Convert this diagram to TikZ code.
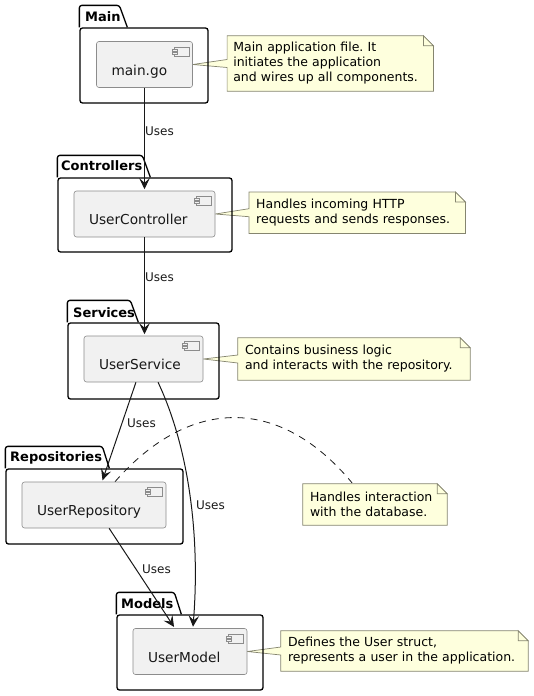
\documentclass[tikz,border=0pt]{standalone}
\usepackage{fontspec}
\setmainfont{DejaVu Sans}
\frenchspacing
\usetikzlibrary{arrows.meta,backgrounds,calc}
\definecolor{notefill}{HTML}{FEFFDD}
\definecolor{noteline}{HTML}{85856F}
\definecolor{compfill}{HTML}{F1F1F1}
\definecolor{compline}{HTML}{8C8C8C}
\definecolor{inkline}{HTML}{181818}
\tikzset{
  pack/.style={rectangle, draw=black, line width=1.3pt, rounded corners=2.5pt, inner sep=0pt},
  packline/.style={draw=black, line width=1.3pt, rounded corners=2.5pt},
  packlabel/.style={anchor=west, inner sep=0pt, font=\fontsize{13}{15}\selectfont\bfseries},
  comp/.style={rectangle, draw=compline, fill=compfill, line width=.6pt, rounded corners=2.5pt,
    align=left, inner xsep=15pt, inner ysep=0pt, minimum height=46pt, text height=21pt, text depth=0pt,
    font=\fontsize{13.7}{15}\selectfont, text=inkline},
  notetext/.style={align=left, inner xsep=7pt, inner ysep=0pt, text=black,
    font=\fontsize{12.5}{15}\selectfont},
  noteshape/.style={draw=noteline, fill=notefill, line width=.7pt},
  uses/.style={inner sep=0pt, text=inkline, font=\fontsize{12}{15}\selectfont},
  link/.style={draw=inkline, line width=1pt, shorten >=1.5pt, -{Stealth[length=11pt,width=10.5pt,inset=4.5pt]}}
}
\newcommand{\packtab}[3]{\draw[packline] (#1.north west) -- ++(0,-22) -- ++(#2,0) -- ($(#1.north west)+(#3,0)$);}
\newcommand{\compicon}[1]{
  \draw[compline, line width=.6pt, fill=compfill] ($(#1.north east)+(-19,6)$) rectangle ++(15,9);
  \draw[compline, line width=.6pt, fill=compfill] ($(#1.north east)+(-21,8)$) rectangle ++(5,2);
  \draw[compline, line width=.6pt, fill=compfill] ($(#1.north east)+(-21,11)$) rectangle ++(5,2);
}
\newcommand{\notefold}[1]{
  \draw[noteline, line width=.7pt, fill=notefill] ($(#1.north east)+(-10,0)$) -- ++(0,10) -- ++(10,0) -- cycle;
}
\newcommand{\noteback}[2]{
  \begin{scope}[on background layer]
  \draw[noteshape] (#1.north west) -- ($(#1.north east)+(-10,0)$) -- ($(#1.north east)+(0,10)$)
    -- (#1.south east) -- (#1.south west) -- ($(#1.west)+(0,4)$) -- (#2.east) -- ($(#1.west)+(0,-4)$) -- cycle;
  \end{scope}
  \notefold{#1}
}
\begin{document}
\begin{tikzpicture}[x=1pt,y=-1pt]
\useasboundingbox (0,0) rectangle (534,696);
% packages
\node[pack, minimum width=128pt, minimum height=75pt] (mainpack) at (144,65.5){};
\packtab{mainpack}{40}{48}
\node[packlabel] (mainlabel) at (85,17){Main};
\node[pack, minimum width=174pt, minimum height=74pt] (ctrlpack) at (145,215){};
\packtab{ctrlpack}{85}{93}
\node[packlabel] (ctrllabel) at (61,166){Controllers};
\node[pack, minimum width=151pt, minimum height=76pt] (servpack) at (143.5,361){};
\packtab{servpack}{63}{71}
\node[packlabel] (servlabel) at (73,312.5){Services};
\node[pack, minimum width=177pt, minimum height=75pt] (repopack) at (94.5,506.5){};
\packtab{repopack}{97}{104}
\node[packlabel] (repolabel) at (10,458){Repositories};
\node[pack, minimum width=146pt, minimum height=75pt] (modelpack) at (190,652.5){};
\packtab{modelpack}{58}{65}
\node[packlabel] (modellabel) at (121,604){Models};
% components
\node[comp, text width=66pt] (maingo) at (144.5,64.5){main.go};
\node[comp, text width=111pt] (controller) at (144.5,214){UserController};
\node[comp, text width=89pt] (service) at (143.5,359){UserService};
\node[comp, text width=114pt] (repository) at (94,505){UserRepository};
\node[comp, text width=84pt] (model) at (190,651.5){UserModel};
\foreach \c in {maingo,controller,service,repository,model}{\compicon{\c}}
% notes
\node[notetext, inner xsep=6pt, text width=194pt, minimum height=55pt] (mainnote) at (330.3,63.5){Main application file. It\\initiates the application\\and wires up all components.};
\noteback{mainnote}{maingo}
\node[notetext, text width=202pt, minimum height=41pt] (ctrlnote) at (357.2,212.7){Handles incoming HTTP\\requests and sends responses.};
\noteback{ctrlnote}{controller}
\node[notetext, text width=218pt, minimum height=42pt] (servnote) at (354,359){Contains business logic\\and interacts with the repository.};
\noteback{servnote}{service}
\node[notetext, text width=130pt, minimum height=41pt] (reponote) at (375,504.5){Handles interaction\\with the database.};
\begin{scope}[on background layer]
\draw[noteshape] (reponote.north west) -- ($(reponote.north east)+(-10,0)$) -- ($(reponote.north east)+(0,10)$) -- (reponote.south east) -- (reponote.south west) -- cycle;
\end{scope}
\notefold{reponote}
\node[notetext, text width=233pt, minimum height=40pt] (modelnote) at (404.5,651){Defines the User struct,\\represents a user in the application.};
\noteback{modelnote}{model}
% connectors
\draw[link] (maingo.south) -- (controller.north);
\node[uses, anchor=west] (uses1) at (145,131){Uses};
\draw[link] (controller.south) -- (controller.south |- service.north);
\node[uses, anchor=west] (uses2) at (145,277){Uses};
\draw[link] (service.252) -- (repository.71);
\node[uses, anchor=west] (uses3) at (127,423){Uses};
\draw[link] (service.302) .. controls (190,450) and (200,540) .. (model.83);
\node[uses, anchor=west] (uses4) at (196,505){Uses};
\draw[link] (repository.303) -- (model.123);
\node[uses, anchor=west] (uses5) at (142,569){Uses};
\draw[draw=inkline, line width=.8pt, dash pattern=on 7pt off 6pt] ($(repository.north)+(21,0)$) .. controls (190,396) and (280,396) .. ($(reponote.north)+(-23,-1)$);
\end{tikzpicture}
\end{document}
